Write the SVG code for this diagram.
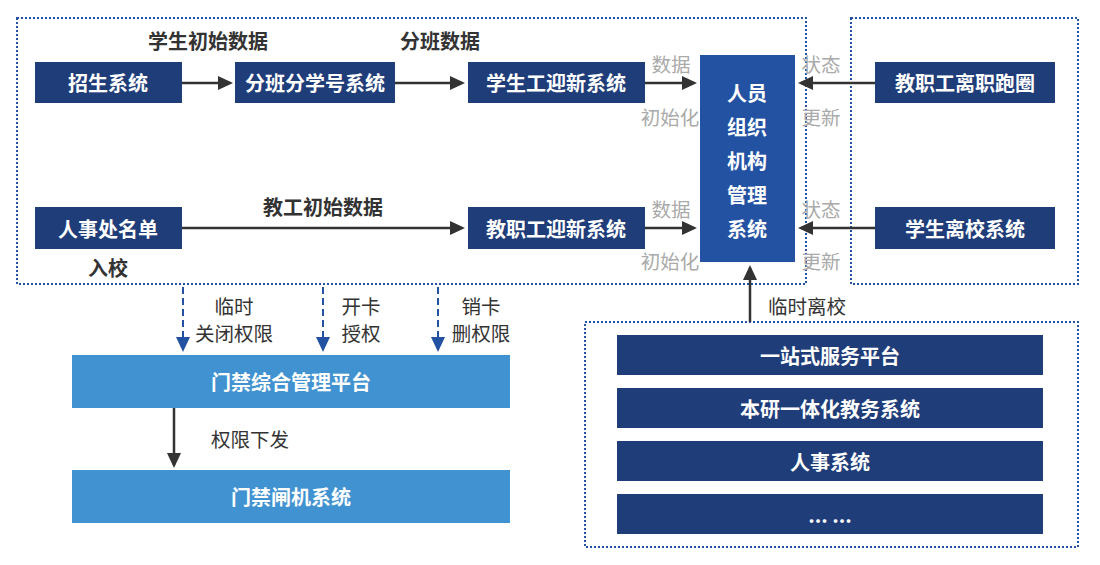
<svg xmlns="http://www.w3.org/2000/svg" width="1100" height="565" viewBox="0 0 1100 565">
<defs>
<marker id="ah" viewBox="0 0 15 14" refX="12" refY="7" markerWidth="15" markerHeight="14" orient="auto" markerUnits="userSpaceOnUse">
<path d="M0,0 L15,7 L0,14 z" fill="#333"/>
</marker>
<marker id="ahb" viewBox="0 0 15 14" refX="12" refY="7" markerWidth="15" markerHeight="14" orient="auto" markerUnits="userSpaceOnUse">
<path d="M0,0 L15,7 L0,14 z" fill="#2352a3"/>
</marker>
<style>
text{font-family:"Noto Sans CJK SC","Noto Sans",sans-serif;}
.frame{fill:none;stroke:#2352a3;stroke-width:2;stroke-dasharray:2 2;}
.dk{fill:#1f3d79;}
.mid{fill:#2352a3;}
.lt{fill:#4192d0;}
.nt{fill:#fff;font-size:20px;font-weight:700;text-anchor:middle;dominant-baseline:central;}
.lb{fill:#333;font-size:20px;font-weight:700;text-anchor:middle;dominant-baseline:central;}
.gl{fill:#aaa;font-size:19.5px;text-anchor:middle;dominant-baseline:central;}
.ml{fill:#333;font-size:19.5px;text-anchor:middle;dominant-baseline:central;}
.ln{stroke:#333;stroke-width:2.5;fill:none;}
.bl{stroke:#2352a3;stroke-width:2;fill:none;stroke-dasharray:7 4;}
</style>
</defs>
<rect width="1100" height="565" fill="#fff"/>
<g id="frames">
<rect class="frame" x="17" y="18" width="789" height="266"/>
<rect class="frame" x="851" y="18" width="227" height="266"/>
<rect class="frame" x="585" y="322" width="493" height="225"/>
</g>
<g id="connectors">
<line class="ln" x1="182" y1="83" x2="230" y2="83" marker-end="url(#ah)"/>
<line class="ln" x1="395" y1="83" x2="462" y2="83" marker-end="url(#ah)"/>
<line class="ln" x1="645" y1="83" x2="694" y2="83" marker-end="url(#ah)"/>
<line class="ln" x1="182" y1="228" x2="462" y2="228" marker-end="url(#ah)"/>
<line class="ln" x1="645" y1="228" x2="694" y2="228" marker-end="url(#ah)"/>
<line class="ln" x1="875" y1="83" x2="801" y2="83" marker-end="url(#ah)"/>
<line class="ln" x1="875" y1="228" x2="801" y2="228" marker-end="url(#ah)"/>
<line class="ln" x1="750" y1="322" x2="750" y2="268" marker-end="url(#ah)"/>
<line class="ln" x1="174" y1="408" x2="174" y2="465" marker-end="url(#ah)"/>
<line class="bl" x1="183" y1="287" x2="183" y2="349" marker-end="url(#ahb)"/>
<line class="bl" x1="323" y1="287" x2="323" y2="349" marker-end="url(#ahb)"/>
<line class="bl" x1="438" y1="287" x2="438" y2="349" marker-end="url(#ahb)"/>
<text class="lb" x="208" y="40">学生初始数据</text>
<text class="lb" x="440" y="40">分班数据</text>
<text class="lb" x="323" y="206">教工初始数据</text>
<text class="lb" x="108" y="267">入校</text>
<text class="gl" x="671" y="63">数据</text>
<text class="gl" x="670" y="116">初始化</text>
<text class="gl" x="671" y="208">数据</text>
<text class="gl" x="670" y="260">初始化</text>
<text class="gl" x="821" y="63">状态</text>
<text class="gl" x="821" y="116">更新</text>
<text class="gl" x="821" y="208">状态</text>
<text class="gl" x="821" y="260">更新</text>
<text class="ml" x="234" y="305">临时</text>
<text class="ml" x="234" y="332">关闭权限</text>
<text class="ml" x="361" y="305">开卡</text>
<text class="ml" x="361" y="332">授权</text>
<text class="ml" x="481" y="305">销卡</text>
<text class="ml" x="481" y="332">删权限</text>
<text class="ml" x="250" y="438">权限下发</text>
<text class="ml" x="807" y="305">临时离校</text>
</g>
<g id="n-zhaosheng"><rect class="dk" x="35" y="62" width="147" height="41"/><text class="nt" x="108" y="82">招生系统</text></g>
<g id="n-fenban"><rect class="dk" x="235" y="62" width="160" height="41"/><text class="nt" x="315" y="82">分班分学号系统</text></g>
<g id="n-xsyx"><rect class="dk" x="468" y="62" width="177" height="41"/><text class="nt" x="556" y="82">学生工迎新系统</text></g>
<g id="n-rsc"><rect class="dk" x="35" y="207" width="147" height="42"/><text class="nt" x="108" y="228">人事处名单</text></g>
<g id="n-jzgyx"><rect class="dk" x="468" y="207" width="177" height="42"/><text class="nt" x="556" y="228">教职工迎新系统</text></g>
<g id="n-ryzz"><rect class="mid" x="700" y="55" width="95" height="207"/>
<text class="nt" x="747" y="92">人员</text><text class="nt" x="747" y="126">组织</text><text class="nt" x="747" y="160">机构</text><text class="nt" x="747" y="194">管理</text><text class="nt" x="747" y="228">系统</text></g>
<g id="n-jzglz"><rect class="dk" x="875" y="62" width="180" height="41"/><text class="nt" x="965" y="82">教职工离职跑圈</text></g>
<g id="n-xslx"><rect class="dk" x="875" y="207" width="180" height="42"/><text class="nt" x="965" y="228">学生离校系统</text></g>
<g id="n-mjzh"><rect class="lt" x="72" y="355" width="438" height="53"/><text class="nt" x="291" y="381">门禁综合管理平台</text></g>
<g id="n-mjzj"><rect class="lt" x="72" y="470" width="438" height="53"/><text class="nt" x="291" y="496">门禁闸机系统</text></g>
<g id="n-yzs"><rect class="dk" x="617" y="335" width="426" height="40"/><text class="nt" x="830" y="355">一站式服务平台</text></g>
<g id="n-byyt"><rect class="dk" x="617" y="388" width="426" height="40"/><text class="nt" x="830" y="408">本研一体化教务系统</text></g>
<g id="n-rs"><rect class="dk" x="617" y="441" width="426" height="40"/><text class="nt" x="830" y="461">人事系统</text></g>
<g id="n-more"><rect class="dk" x="617" y="494" width="426" height="40"/><text class="nt" x="830" y="514">... ...</text></g>
</svg>
